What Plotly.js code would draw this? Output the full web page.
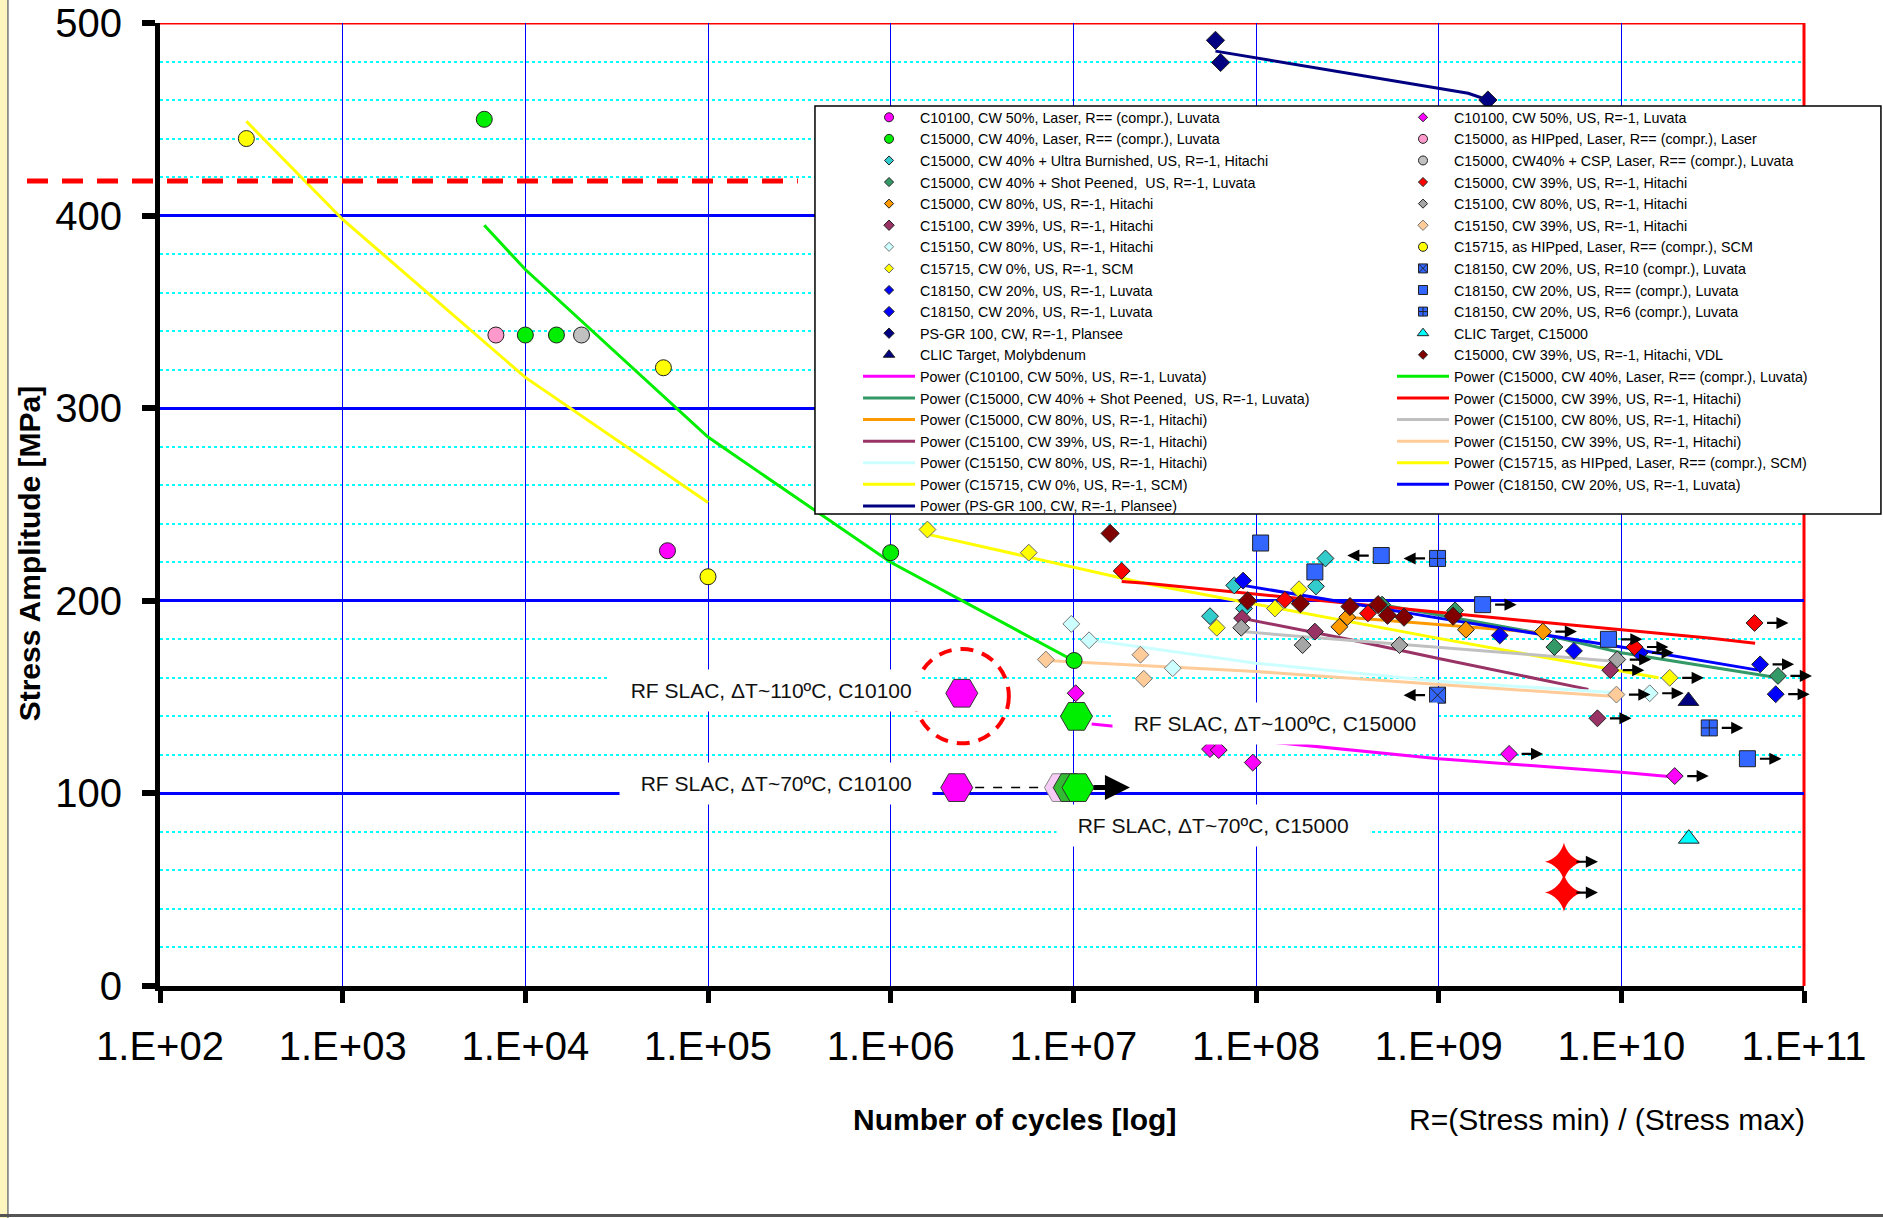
<!DOCTYPE html>
<html><head><meta charset="utf-8">
<script src="https://cdn.plot.ly/plotly-3.0.1.min.js"></script>
<style>html,body{margin:0;padding:0;background:#fff}</style>
</head><body>
<div id="chart" style="width:1883px;height:1218px"></div>
<script>
// ---------------- DATA ----------------
const xTickVals = [1e2,1e3,1e4,1e5,1e6,1e7,1e8,1e9,1e10,1e11];
const xTickText = ['1.E+02','1.E+03','1.E+04','1.E+05','1.E+06','1.E+07','1.E+08','1.E+09','1.E+10','1.E+11'];
const yTickVals = [0,100,200,300,400,500];

// marker series (N = number of cycles, S = stress amplitude MPa, Run: 1 = run-out right, -1 = arrow left)
const c10100LaserN = [6.0e4];
const c10100LaserS = [226];
const c15000LaserN = [5.96e3, 1.0e4, 1.48e4, 1.0e6, 1.01e7];
const c15000LaserS = [450, 338, 338, 225, 169];
const c15000UbN = [5.6e7, 7.6e7, 8.6e7, 2.13e8, 2.4e8];
const c15000UbS = [192, 208, 196, 207.5, 222];
const c15000SpN = [4.9e8, 1.23e9, 4.3e9, 7.2e10];
const c15000SpS = [198, 195, 176, 161];
const c15000SpRun = [0, 0, 0, 1];
const c15000Cw80N = [2.86e8, 3.16e8, 1.41e9, 3.72e9];
const c15000Cw80S = [186.5, 191.5, 185, 184];
const c15000Cw80Run = [0, 0, 0, 1];
const c15100Cw39N = [8.4e7, 2.1e8, 8.7e9, 7.4e9];
const c15100Cw39S = [191, 184, 164, 139];
const c15100Cw39Run = [0, 0, 1, 1];
const c15150Cw80N = [9.75e6, 1.22e7, 3.5e7, 1.43e10];
const c15150Cw80S = [188, 179.5, 165, 152];
const c15150Cw80Run = [0, 0, 0, 1];
const c15715Cw0N = [1.59e6, 5.7e6, 6.1e7, 1.27e8, 1.72e8, 1.84e10];
const c15715Cw0S = [237, 225, 186, 196, 206, 160];
const c15715Cw0Run = [0, 0, 0, 0, 0, 1];
const c18150aN = [8.5e7, 2.16e9, 5.5e9];
const c18150aS = [210.5, 182, 174];
const c18150bN = [1.26e10, 5.75e10, 7.0e10];
const c18150bS = [173, 167, 151.5];
const c18150bRun = [1, 1, 1];
const psgrN = [6.0e7, 6.4e7, 1.86e9];
const psgrS = [491, 479.5, 460];
const clicMoN = [2.33e10];
const clicMoS = [148];
const c10100UsN = [1.03e7, 5.6e7, 6.25e7, 9.6e7, 2.43e9, 1.96e10];
const c10100UsS = [152, 123, 122.5, 116, 120.5, 109];
const c10100UsRun = [0, 0, 0, 0, 1, 1];
const c15000HipN = [6.9e3];
const c15000HipS = [338];
const c15000CspN = [2.03e4];
const c15000CspS = [338];
const c15000Cw39N = [1.84e7, 1.44e8, 4.1e8, 1.18e10, 5.36e10];
const c15000Cw39S = [215.5, 200.5, 193.5, 176, 188.5];
const c15000Cw39Run = [0, 0, 0, 1, 1];
const c15100Cw80N = [8.3e7, 1.8e8, 6.1e8, 9.5e9];
const c15100Cw80S = [186, 177, 177, 169.5];
const c15100Cw80Run = [0, 0, 0, 1];
const c15150Cw39N = [7.07e6, 2.33e7, 2.43e7, 9.4e9];
const c15150Cw39S = [169.5, 172, 159.5, 151.3];
const c15150Cw39Run = [0, 0, 0, 1];
const c15715HipN = [297, 5.7e4, 1.0e5];
const c15715HipS = [440, 321, 212.5];
const c18150R10N = [9.86e8];
const c18150R10S = [151];
const c18150R10Run = [-1];
const c18150CompN = [1.06e8, 2.1e8, 4.85e8, 1.74e9, 8.5e9, 4.9e10];
const c18150CompS = [230, 215, 223.5, 198, 180, 118];
const c18150CompRun = [0, 0, -1, 1, 1, 1];
const c18150R6N = [9.86e8, 3.03e10];
const c18150R6S = [222, 134];
const c18150R6Run = [-1, 1];
const clicCuN = [2.34e10];
const clicCuS = [76.5];
const vdlN = [1.59e7, 9.0e7, 1.75e8, 3.27e8, 4.66e8, 5.25e8, 6.46e8, 1.2e9];
const vdlS = [235, 200, 198.5, 197, 198, 192.5, 191.5, 192];

// RF SLAC points
const rfC10100N = [2.45e6, 2.3e6];
const rfC10100S = [152, 103];
const rfPaleN = [8.5e6];
const rfPaleS = [103];
const rfMidN = [9.5e6];
const rfMidS = [103];
const rfC15000N = [1.04e7, 1.06e7];
const rfC15000S = [140, 103];
const rfLinkN = [2.9e6, 7.0e6];
const rfLinkS = [103, 103];
const starN = [4.85e9, 4.85e9];
const starS = [64.5, 48.5];
const starRun = [1, 1];

// Power trend lines
const pwC10100N = [1.26e7, 1.55e8, 1e9, 1e10, 1.95e10];
const pwC10100S = [136, 125.5, 118, 111, 108.5];
const pwSpN = [4.9e8, 3.2e9, 1e10, 7.2e10];
const pwSpS = [198, 184, 173, 160];
const pwCw80N = [2.9e8, 1e9, 4.1e9];
const pwCw80S = [191.7, 187.5, 183];
const pwC15100Cw39N = [8.3e7, 3.2e8, 1e9, 6.6e9];
const pwC15100Cw39S = [191, 180, 170, 154];
const pwC15150Cw80N = [1.17e7, 1e8, 1e9, 9.5e9];
const pwC15150Cw80S = [180, 167.6, 158.2, 152.2];
const pwC15715Cw0N = [1.6e6, 2.6e7, 1e9, 1.6e10];
const pwC15715Cw0S = [234.5, 208.6, 180.5, 160];
const pwPsgrN = [6.0e7, 1.45e9, 1.86e9];
const pwPsgrS = [485.4, 463.5, 460];
const pwLaserN = [5.96e3, 1e4, 1e5, 1e6, 1e7];
const pwLaserS = [395, 372, 285, 220, 169];
const pwCw39N = [1.84e7, 2.6e7, 1e9, 1e10, 3.1e10, 5.4e10];
const pwCw39S = [210, 209, 194, 185, 180.5, 178];
const pwC15100Cw80N = [8.3e7, 1e9, 9.5e9];
const pwC15100Cw80S = [184, 176, 168.5];
const pwC15150Cw39N = [7.1e6, 1e8, 1e9, 8.9e9];
const pwC15150Cw39S = [169, 163.3, 156.5, 150.4];
const pwC15715HipN = [297, 1e3, 1e4, 1e5];
const pwC15715HipS = [449, 398, 316, 251];
const pwC18150N = [8.5e7, 1e9, 1e10, 5.6e10];
const pwC18150S = [208, 191, 176, 164];

// ---------------- STYLE / BUILD ----------------
const FONT = '"Liberation Sans", Arial, Helvetica, sans-serif';

const markerSpecs = [
  {leg:'legend', name:'C10100, CW 50%, Laser, R== (compr.), Luvata', N:c10100LaserN, S:c10100LaserS, sym:'circle', color:'#FF00FF', size:16, ls:9},
  {leg:'legend', name:'C15000, CW 40%, Laser, R== (compr.), Luvata', N:c15000LaserN, S:c15000LaserS, sym:'circle', color:'#00EE00', size:16, ls:9},
  {leg:'legend', name:'C15000, CW 40% + Ultra Burnished, US, R=-1, Hitachi', N:c15000UbN, S:c15000UbS, sym:'diamond', color:'#33CCCC', size:13, ls:7},
  {leg:'legend', name:'C15000, CW 40% + Shot Peened,  US, R=-1, Luvata', N:c15000SpN, S:c15000SpS, run:c15000SpRun, sym:'diamond', color:'#339966', size:13, ls:7},
  {leg:'legend', name:'C15000, CW 80%, US, R=-1, Hitachi', N:c15000Cw80N, S:c15000Cw80S, run:c15000Cw80Run, sym:'diamond', color:'#FF9900', size:13, ls:7},
  {leg:'legend', name:'C15100, CW 39%, US, R=-1, Hitachi', N:c15100Cw39N, S:c15100Cw39S, run:c15100Cw39Run, sym:'diamond', color:'#993366', size:13, ls:8},
  {leg:'legend', name:'C15150, CW 80%, US, R=-1, Hitachi', N:c15150Cw80N, S:c15150Cw80S, run:c15150Cw80Run, sym:'diamond', color:'#CCFFFF', size:13, ls:7, edge:'#777'},
  {leg:'legend', name:'C15715, CW 0%, US, R=-1, SCM', N:c15715Cw0N, S:c15715Cw0S, run:c15715Cw0Run, sym:'diamond', color:'#FFFF00', size:13, ls:7, edge:'#666'},
  {leg:'legend', name:'C18150, CW 20%, US, R=-1, Luvata', N:c18150aN, S:c18150aS, sym:'diamond', color:'#0000FF', size:13, ls:7},
  {leg:'legend', name:'C18150, CW 20%, US, R=-1, Luvata', N:c18150bN, S:c18150bS, run:c18150bRun, sym:'diamond', color:'#0000FF', size:13, ls:8},
  {leg:'legend', name:'PS-GR 100, CW, R=-1, Plansee', N:psgrN, S:psgrS, sym:'diamond', color:'#000080', size:14, ls:8},
  {leg:'legend', name:'CLIC Target, Molybdenum', N:clicMoN, S:clicMoS, sym:'triangle-up', color:'#000080', size:18, ls:10},
  {leg:'legend2', name:'C10100, CW 50%, US, R=-1, Luvata', N:c10100UsN, S:c10100UsS, run:c10100UsRun, sym:'diamond', color:'#FF00FF', size:13, ls:7},
  {leg:'legend2', name:'C15000, as HIPped, Laser, R== (compr.), Laser', N:c15000HipN, S:c15000HipS, sym:'circle', color:'#FF99CC', size:16, ls:9},
  {leg:'legend2', name:'C15000, CW40% + CSP, Laser, R== (compr.), Luvata', N:c15000CspN, S:c15000CspS, sym:'circle', color:'#C0C0C0', size:16, ls:9},
  {leg:'legend2', name:'C15000, CW 39%, US, R=-1, Hitachi', N:c15000Cw39N, S:c15000Cw39S, run:c15000Cw39Run, sym:'diamond', color:'#FF0000', size:13, ls:7},
  {leg:'legend2', name:'C15100, CW 80%, US, R=-1, Hitachi', N:c15100Cw80N, S:c15100Cw80S, run:c15100Cw80Run, sym:'diamond', color:'#A6A6A6', size:13, ls:7},
  {leg:'legend2', name:'C15150, CW 39%, US, R=-1, Hitachi', N:c15150Cw39N, S:c15150Cw39S, run:c15150Cw39Run, sym:'diamond', color:'#FFCC99', size:13, ls:8, edge:'#777'},
  {leg:'legend2', name:'C15715, as HIPped, Laser, R== (compr.), SCM', N:c15715HipN, S:c15715HipS, sym:'circle', color:'#FFFF00', size:16, ls:9},
  {leg:'legend2', name:'C18150, CW 20%, US, R=10 (compr.), Luvata', N:c18150R10N, S:c18150R10S, run:c18150R10Run, sym:'square-x', color:'#3366FF', size:16, ls:9},
  {leg:'legend2', name:'C18150, CW 20%, US, R== (compr.), Luvata', N:c18150CompN, S:c18150CompS, run:c18150CompRun, sym:'square', color:'#3366FF', size:16, ls:9},
  {leg:'legend2', name:'C18150, CW 20%, US, R=6 (compr.), Luvata', N:c18150R6N, S:c18150R6S, run:c18150R6Run, sym:'square-cross', color:'#3366FF', size:16, ls:9},
  {leg:'legend2', name:'CLIC Target, C15000', N:clicCuN, S:clicCuS, sym:'triangle-up', color:'#00FFFF', size:18, ls:10},
  {leg:'legend2', name:'C15000, CW 39%, US, R=-1, Hitachi, VDL', N:vdlN, S:vdlS, sym:'diamond', color:'#800000', size:14, ls:7}
];

const lineSpecs = [
  {leg:'legend', name:'Power (C10100, CW 50%, US, R=-1, Luvata)', N:pwC10100N, S:pwC10100S, color:'#FF00FF'},
  {leg:'legend', name:'Power (C15000, CW 40% + Shot Peened,  US, R=-1, Luvata)', N:pwSpN, S:pwSpS, color:'#339966'},
  {leg:'legend', name:'Power (C15000, CW 80%, US, R=-1, Hitachi)', N:pwCw80N, S:pwCw80S, color:'#FF9900'},
  {leg:'legend', name:'Power (C15100, CW 39%, US, R=-1, Hitachi)', N:pwC15100Cw39N, S:pwC15100Cw39S, color:'#993366'},
  {leg:'legend', name:'Power (C15150, CW 80%, US, R=-1, Hitachi)', N:pwC15150Cw80N, S:pwC15150Cw80S, color:'#CCFFFF'},
  {leg:'legend', name:'Power (C15715, CW 0%, US, R=-1, SCM)', N:pwC15715Cw0N, S:pwC15715Cw0S, color:'#FFFF00'},
  {leg:'legend', name:'Power (PS-GR 100, CW, R=-1, Plansee)', N:pwPsgrN, S:pwPsgrS, color:'#000080'},
  {leg:'legend2', name:'Power (C15000, CW 40%, Laser, R== (compr.), Luvata)', N:pwLaserN, S:pwLaserS, color:'#00EE00'},
  {leg:'legend2', name:'Power (C15000, CW 39%, US, R=-1, Hitachi)', N:pwCw39N, S:pwCw39S, color:'#FF0000'},
  {leg:'legend2', name:'Power (C15100, CW 80%, US, R=-1, Hitachi)', N:pwC15100Cw80N, S:pwC15100Cw80S, color:'#C0C0C0'},
  {leg:'legend2', name:'Power (C15150, CW 39%, US, R=-1, Hitachi)', N:pwC15150Cw39N, S:pwC15150Cw39S, color:'#FFCC99'},
  {leg:'legend2', name:'Power (C15715, as HIPped, Laser, R== (compr.), SCM)', N:pwC15715HipN, S:pwC15715HipS, color:'#FFFF00'},
  {leg:'legend2', name:'Power (C18150, CW 20%, US, R=-1, Luvata)', N:pwC18150N, S:pwC18150S, color:'#0000FF'}
];

const traces = [];
// trend lines
lineSpecs.forEach(l => traces.push({type:'scatter', mode:'lines', x:l.N, y:l.S, line:{color:l.color, width:3}, showlegend:false, hoverinfo:'skip'}));
// connector between RF SLAC points
traces.push({type:'scatter', mode:'lines', x:rfLinkN, y:rfLinkS, line:{color:'#000', width:1.5, dash:'dash'}, showlegend:false, hoverinfo:'skip'});
// markers
markerSpecs.forEach(m => traces.push({type:'scatter', mode:'markers', x:m.N, y:m.S, showlegend:false,
  marker:{symbol:m.sym, color:m.color, size:m.size, line:{color:m.edge||'#222', width:1}}}));
// RF SLAC hexagons
traces.push({type:'scatter', mode:'markers', x:rfC10100N, y:rfC10100S, showlegend:false, marker:{symbol:'hexagon2', size:32, color:'#FF00FF', line:{color:'#333', width:1}}});
traces.push({type:'scatter', mode:'markers', x:rfPaleN, y:rfPaleS, showlegend:false, marker:{symbol:'hexagon2', size:32, color:'#F6CCF6', line:{color:'#888', width:1}}});
traces.push({type:'scatter', mode:'markers', x:rfMidN, y:rfMidS, showlegend:false, marker:{symbol:'hexagon2', size:32, color:'#33BB33', line:{color:'#333', width:1}}});
traces.push({type:'scatter', mode:'markers', x:rfC15000N, y:rfC15000S, showlegend:false, marker:{symbol:'hexagon2', size:32, color:'#00EE00', line:{color:'#333', width:1}}});
// red stars
traces.push({type:'scatter', mode:'markers', x:starN, y:starS, showlegend:false, marker:{symbol:'star-diamond', size:27, color:'#FF0000', line:{width:0}}});

// legend entries (legend-only traces, small symbols like the original)
['legend','legend2'].forEach(lg => {
  markerSpecs.filter(m => m.leg === lg).forEach(m => traces.push({type:'scatter', mode:'markers', x:[null], y:[null], name:m.name, legend:lg,
    marker:{symbol:m.sym, color:m.color, size:m.ls, line:{color:m.edge||'#222', width:1}}, hoverinfo:'skip'}));
  lineSpecs.filter(l => l.leg === lg).forEach(l => traces.push({type:'scatter', mode:'lines', x:[null], y:[null], name:l.name, legend:lg,
    line:{color:l.color, width:3}, hoverinfo:'skip'}));
});

// run-out arrows
const annotations = [];
function addRunArrows(N, S, run) {
  if (!run) return;
  N.forEach((n, i) => {
    if (!run[i]) return;
    const dir = run[i];
    annotations.push({x:Math.log10(n), y:S[i], xref:'x', yref:'y', text:'', showarrow:true,
      xshift: dir * 34, ax: -dir * 23, ay: 0, arrowhead:2, arrowsize:1.1, arrowwidth:2.2, arrowcolor:'#000'});
  });
}
markerSpecs.forEach(m => addRunArrows(m.N, m.S, m.run));
addRunArrows(starN, starS, starRun);
// big arrow after RF SLAC C15000 70 degC point
annotations.push({x:Math.log10(rfC15000N[1]), y:rfC15000S[1], xref:'x', yref:'y', text:'', showarrow:true,
  xshift:52, ax:-38, ay:0, arrowhead:2, arrowsize:1, arrowwidth:5, arrowcolor:'#000'});

// RF SLAC labels
const rfFont = {family:FONT, size:21, color:'#111'};
const pad = '\u00a0\u00a0';
[
  {t:pad + 'RF SLAC, \u0394T~110\u00baC, C10100', x:5.316, y:153.6},
  {t:pad + 'RF SLAC, \u0394T~70\u00baC, C10100' + pad, x:5.370, y:105.1},
  {t:pad + 'RF SLAC, \u0394T~100\u00baC, C15000' + pad, x:8.1015, y:136.2},
  {t:pad + 'RF SLAC, \u0394T~70\u00baC, C15000' + pad, x:7.7647, y:83.2}
].forEach(a => annotations.push({x:a.x, y:a.y, xref:'x', yref:'y', text:a.t, showarrow:false,
  font:rfFont, bgcolor:'#FFFFFF', borderpad:9, xanchor:'center', yanchor:'middle'}));

// axis titles
annotations.push({x:-0.0795, y:0.4496, xref:'paper', yref:'paper', text:'Stress Amplitude [MPa]', textangle:-90, showarrow:false,
  font:{family:FONT, size:30, color:'#000', weight:'bold'}, xanchor:'center', yanchor:'middle'});
annotations.push({x:0.520, y:-0.1391, xref:'paper', yref:'paper', text:'Number of cycles [log]', showarrow:false,
  font:{family:FONT, size:30, color:'#000', weight:'bold'}, xanchor:'center', yanchor:'middle'});
annotations.push({x:0.880, y:-0.1391, xref:'paper', yref:'paper', text:'R=(Stress min) / (Stress max)', showarrow:false,
  font:{family:FONT, size:30, color:'#000'}, xanchor:'center', yanchor:'middle'});

const shapes = [
  // frame decorations
  {type:'rect', xref:'paper', yref:'paper', x0:-0.0975, x1:-0.0925, y0:-0.2409, y1:1.0239, fillcolor:'#FFF6BF', line:{width:0}, layer:'below'},
  {type:'line', xref:'paper', yref:'paper', x0:-0.0925, x1:-0.0925, y0:-0.2409, y1:1.0239, line:{color:'#777', width:1.5}, layer:'below'},
  {type:'line', xref:'paper', yref:'paper', x0:-0.0975, x1:1.05, y0:-0.2383, y1:-0.2383, line:{color:'#555', width:3}, layer:'below'},
  // red top and right borders
  {type:'line', xref:'paper', yref:'y', x0:0, x1:1, y0:500, y1:500, line:{color:'#FF0000', width:3}, layer:'between'},
  {type:'line', xref:'paper', yref:'paper', x0:1, x1:1, y0:0, y1:1, line:{color:'#FF0000', width:3}, layer:'between'},
  // dashed red limit line
  {type:'line', xref:'paper', yref:'y', x0:-0.0809, x1:0.388, y0:418, y1:418, line:{color:'#FF0000', width:5, dash:'21px,14px'}, layer:'above'},
  // dashed red circle
  {type:'circle', xref:'paper', yref:'y', x0:(6.133-2)/9, x1:(6.647-2)/9, y0:126, y1:175, line:{color:'#FF0000', width:4, dash:'13px,9px'}, layer:'above'},
  // legend box
  {type:'rect', xref:'paper', yref:'paper', x0:0.3984, x1:1.0468, y0:0.4901, y1:0.9138, fillcolor:'#FFFFFF', line:{color:'#000', width:1.5}, layer:'above'}
];

const legendBase = {y:0.9185, yanchor:'top', xanchor:'left', bgcolor:'rgba(0,0,0,0)', borderwidth:0,
  font:{family:FONT, size:14.3, color:'#000'}, itemwidth:52, traceorder:'normal', itemclick:false, itemdoubleclick:false};

const layout = {
  width:1883, height:1218,
  margin:{l:160, r:79, t:23, b:232, autoexpand:false},
  paper_bgcolor:'#FFFFFF', plot_bgcolor:'#FFFFFF',
  font:{family:FONT, color:'#000'},
  showlegend:true,
  legend:Object.assign({}, legendBase, {x:0.4246}),
  legend2:Object.assign({}, legendBase, {x:0.7494}),
  xaxis:{type:'log', range:[2, 11], tickvals:xTickVals, ticktext:xTickText, tickfont:{family:FONT, size:40, color:'#000'},
    ticks:'outside', ticklen:12, tickwidth:5, tickcolor:'#000', ticklabelstandoff:9, ticklabeloverflow:'allow',
    showline:true, linecolor:'#000', linewidth:5, showgrid:true, gridcolor:'#0000FF', gridwidth:1, zeroline:false, fixedrange:true},
  yaxis:{range:[0, 500], tickvals:yTickVals, tickfont:{family:FONT, size:40, color:'#000'},
    ticks:'outside', ticklen:13, tickwidth:6, tickcolor:'#000', ticklabelstandoff:12, ticklabeloverflow:'allow',
    showline:true, linecolor:'#000', linewidth:5, showgrid:true, gridcolor:'#0000FF', gridwidth:3, zeroline:false, fixedrange:true,
    minor:{dtick:20, showgrid:true, gridcolor:'#00FFFF', gridwidth:2, griddash:'dot', ticks:''}},
  shapes:shapes,
  annotations:annotations
};

Plotly.newPlot('chart', traces, layout, {displayModeBar:false, staticPlot:true});
</script>
</body></html>
